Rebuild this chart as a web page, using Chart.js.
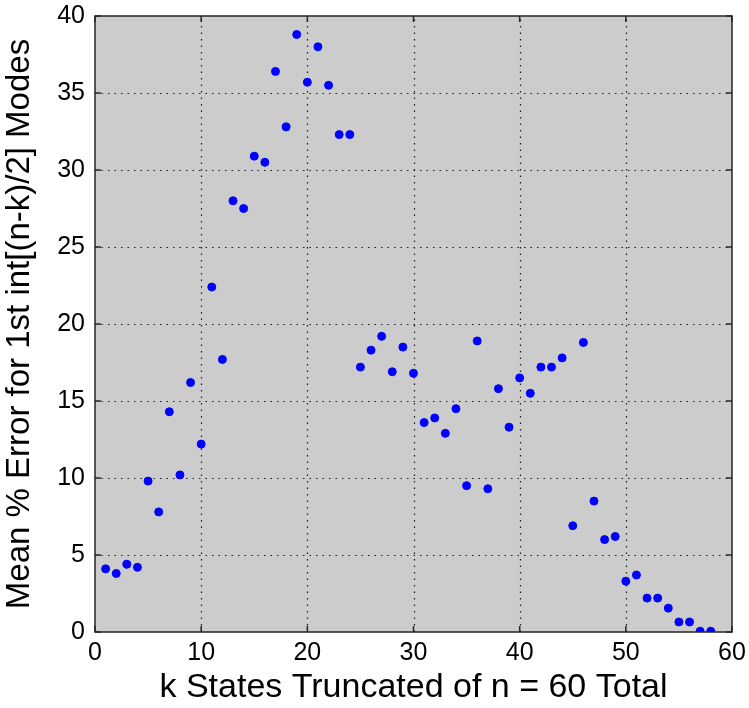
<!DOCTYPE html>
<html>
<head>
<meta charset="utf-8">
<script src="https://cdn.jsdelivr.net/npm/chart.js@4/dist/chart.umd.min.js"></script>
<style>
  html, body { margin: 0; padding: 0; background: #fff; }
  #wrap { width: 749px; height: 708px; }
</style>
</head>
<body>
<div id="wrap"><canvas id="chart" width="749" height="708"></canvas></div>
<script>
// k = number of states truncated (1..58)
const kValues = [
    1, 2, 3, 4, 5, 6, 7, 8, 9, 10,
    11, 12, 13, 14, 15, 16, 17, 18, 19, 20,
    21, 22, 23, 24, 25, 26, 27, 28, 29, 30,
    31, 32, 33, 34, 35, 36, 37, 38, 39, 40,
    41, 42, 43, 44, 45, 46, 47, 48, 49, 50,
    51, 52, 53, 54, 55, 56, 57, 58,
];

// mean % error
const meanError = [
    4.1, 3.8, 4.4, 4.2, 9.8, 7.8, 14.3, 10.2, 16.2, 12.2,
    22.4, 17.7, 28.0, 27.5, 30.9, 30.5, 36.4, 32.8, 38.8, 35.7,
    38.0, 35.5, 32.3, 32.3, 17.2, 18.3, 19.2, 16.9, 18.5, 16.8,
    13.6, 13.9, 12.9, 14.5, 9.5, 18.9, 9.3, 15.8, 13.3, 16.5,
    15.5, 17.2, 17.2, 17.8, 6.9, 18.8, 8.5, 6.0, 6.2, 3.3,
    3.7, 2.2, 2.2, 1.55, 0.65, 0.65, 0.05, 0.05,
];

const xTicks = [0, 10, 20, 30, 40, 50, 60];
const yTicks = [0, 5, 10, 15, 20, 25, 30, 35, 40];

const points = kValues.map((k, i) => ({ x: k, y: meanError[i] }));

// Grey axes background, dotted grid, inward tick marks and the box (MATLAB look).
const axesBox = {
    id: 'axesBox',
    beforeDatasetsDraw(chart) {
        const { ctx, chartArea: a, scales } = chart;
        ctx.save();
        ctx.fillStyle = '#cccccc';
        ctx.fillRect(a.left, a.top, a.right - a.left, a.bottom - a.top);

        ctx.strokeStyle = '#1a1a1a';
        ctx.lineWidth = 1.2;
        ctx.setLineDash([1.5, 5]);
        ctx.beginPath();
        xTicks.slice(1, -1).forEach((v) => {
            const px = Math.round(scales.x.getPixelForValue(v)) + 0.5;
            ctx.moveTo(px, a.bottom); ctx.lineTo(px, a.top);
        });
        yTicks.slice(1, -1).forEach((v) => {
            const py = Math.round(scales.y.getPixelForValue(v)) + 0.5;
            ctx.moveTo(a.left, py); ctx.lineTo(a.right, py);
        });
        ctx.stroke();
        ctx.restore();
    },
    afterDatasetsDraw(chart) {
        const { ctx, chartArea: a, scales } = chart;
        ctx.save();
        ctx.strokeStyle = '#262626';
        ctx.lineWidth = 1.5;
        ctx.strokeRect(a.left, a.top, a.right - a.left, a.bottom - a.top);
        ctx.beginPath();
        xTicks.forEach((v) => {
            const px = scales.x.getPixelForValue(v);
            ctx.moveTo(px, a.bottom); ctx.lineTo(px, a.bottom - 6);
            ctx.moveTo(px, a.top); ctx.lineTo(px, a.top + 6);
        });
        yTicks.forEach((v) => {
            const py = scales.y.getPixelForValue(v);
            ctx.moveTo(a.left, py); ctx.lineTo(a.left + 6, py);
            ctx.moveTo(a.right, py); ctx.lineTo(a.right - 6, py);
        });
        ctx.stroke();
        ctx.restore();
    },
};

const font = 'Liberation Sans, Arial, Helvetica, sans-serif';

new Chart(document.getElementById('chart'), {
    type: 'scatter',
    data: {
        datasets: [{
            data: points,
            backgroundColor: '#0000ff',
            borderColor: '#0000ff',
            pointStyle: 'circle',
            pointRadius: 4,
            borderWidth: 1,
        }],
    },
    options: {
        responsive: false,
        animation: false,
        layout: { padding: { top: 16, right: 17, left: 0, bottom: 0 } },
        plugins: { legend: { display: false }, tooltip: { enabled: false } },
        scales: {
            x: {
                type: 'linear',
                min: 0,
                max: 60,
                afterBuildTicks: (s) => { s.ticks = xTicks.map((v) => ({ value: v })); },
                afterFit: (s) => { s.height = 76; s.paddingRight = 0; s.paddingLeft = 0; },
                grid: { display: false, drawTicks: false },
                border: { display: false },
                ticks: { color: '#000', font: { family: font, size: 25 }, padding: 6 },
                title: {
                    display: true,
                    text: 'k States Truncated of n = 60 Total',
                    color: '#000',
                    font: { family: font, size: 34 },
                    padding: { top: 0, bottom: 0 },
                },
            },
            y: {
                type: 'linear',
                min: 0,
                max: 40,
                afterBuildTicks: (s) => { s.ticks = yTicks.map((v) => ({ value: v })); },
                afterFit: (s) => { s.width = 95; s.paddingTop = 0; s.paddingBottom = 0; },
                grid: { display: false, drawTicks: false },
                border: { display: false },
                ticks: { color: '#000', font: { family: font, size: 25 }, padding: 10 },
                title: {
                    display: true,
                    text: 'Mean % Error for 1st int[(n-k)/2] Modes',
                    color: '#000',
                    font: { family: font, size: 33 },
                    padding: { top: 0, bottom: 2 },
                },
            },
        },
    },
    plugins: [axesBox],
});
</script>
</body>
</html>
